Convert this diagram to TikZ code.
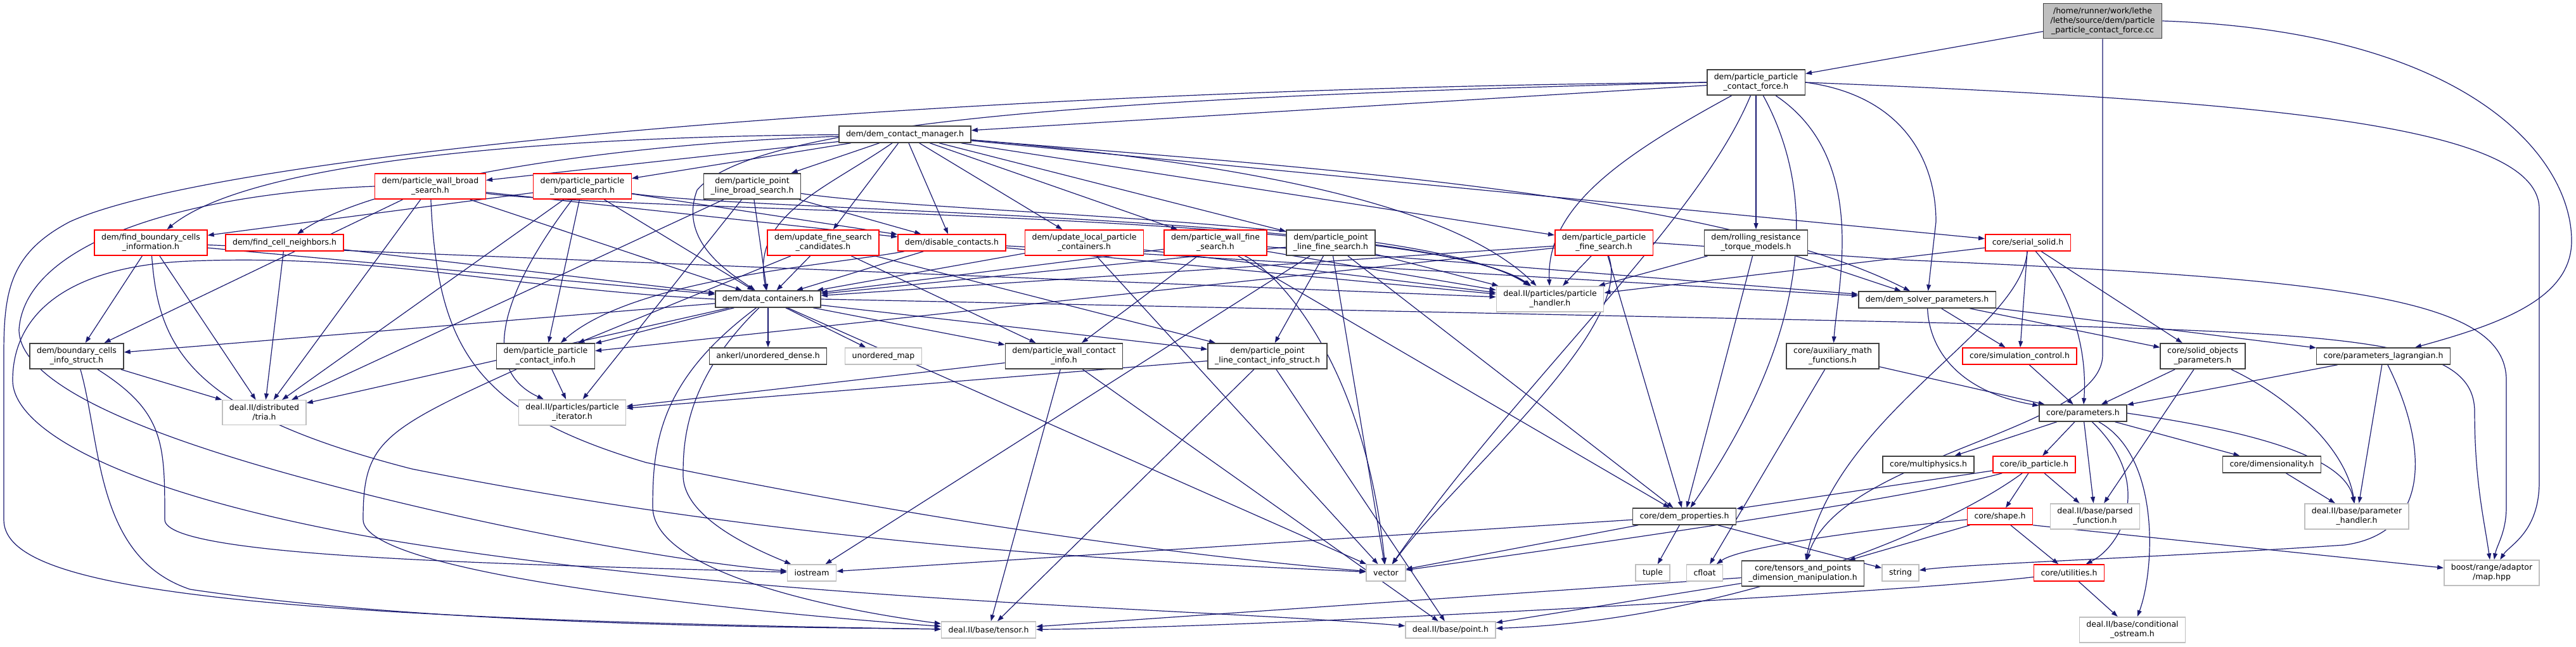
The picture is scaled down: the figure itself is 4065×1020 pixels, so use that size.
\documentclass[tikz,border=0pt]{standalone}
\usepackage{fontspec}
\setmainfont{DejaVu Sans}
\usetikzlibrary{
    arrows.meta,
    backgrounds
}
\definecolor{incblue}{RGB}{25,25,112}
\definecolor{boxdark}{RGB}{64,64,64}
\definecolor{boxgray}{RGB}{191,191,191}
\definecolor{boxred}{RGB}{255,0,0}
\tikzset{
  file/.style    = {draw=boxdark, line width=1.5pt, fill=white, align=center,
                    inner xsep=11pt, inner ysep=6.5pt, minimum height=26pt,
                    font=\fontsize{12.5}{15}\selectfont},
  redfile/.style = {file, draw=boxred},
  sysfile/.style = {file, draw=boxgray},
  rootfile/.style= {file, fill=boxgray},
  inc/.style     = {-{Triangle[length=10pt,width=7pt]}, incblue, line width=1.2pt}
}

\begin{document}
\begin{tikzpicture}[x=1pt, y=-1pt]
  \useasboundingbox (0,0) rectangle (4065,1020);

  % Files
  \node[rootfile] (root) at (3318,33) {/home/runner/work/lethe\\/lethe/source/dem/particle\\\_particle\_contact\_force.cc};
  \node[file] (ppcf) at (2771,130) {dem/particle\_particle\\\_contact\_force.h};
  \node[file] (cm) at (1428,212) {dem/dem\_contact\_manager.h};
  \node[redfile] (pwbs) at (679,294) {dem/particle\_wall\_broad\\\_search.h};
  \node[redfile] (ppbs) at (919,294) {dem/particle\_particle\\\_broad\_search.h};
  \node[file] (plbs) at (1187,294) {dem/particle\_point\\\_line\_broad\_search.h};
  \node[redfile] (fbci) at (238,383) {dem/find\_boundary\_cells\\\_information.h};
  \node[redfile] (fcn) at (449,383) {dem/find\_cell\_neighbors.h};
  \node[redfile] (ufsc) at (1299,383) {dem/update\_fine\_search\\\_candidates.h};
  \node[redfile] (dc) at (1502,383) {dem/disable\_contacts.h};
  \node[redfile] (ulpc) at (1711,383) {dem/update\_local\_particle\\\_containers.h};
  \node[redfile] (pwfs) at (1918,383) {dem/particle\_wall\_fine\\\_search.h};
  \node[file] (plfs) at (2100,383) {dem/particle\_point\\\_line\_fine\_search.h};
  \node[redfile] (ppfs) at (2531,383) {dem/particle\_particle\\\_fine\_search.h};
  \node[file] (rrtm) at (2771,383) {dem/rolling\_resistance\\\_torque\_models.h};
  \node[redfile] (ss) at (3200,383) {core/serial\_solid.h};
  \node[file] (datac) at (1212,472) {dem/data\_containers.h};
  \node[sysfile] (ph) at (2446,472) {deal.II/particles/particle\\\_handler.h};
  \node[file] (dsp) at (3041,473) {dem/dem\_solver\_parameters.h};
  \node[file] (bcis) at (121,562) {dem/boundary\_cells\\\_info\_struct.h};
  \node[file] (ppci) at (861,562) {dem/particle\_particle\\\_contact\_info.h};
  \node[file] (ank) at (1212,562) {ankerl/unordered\_dense.h};
  \node[sysfile] (umap) at (1394,562) {unordered\_map};
  \node[file] (pwci) at (1679,562) {dem/particle\_wall\_contact\\\_info.h};
  \node[file] (plci) at (2000,562) {dem/particle\_point\\\_line\_contact\_info\_struct.h};
  \node[file] (amf) at (2892,562) {core/auxiliary\_math\\\_functions.h};
  \node[redfile] (simc) at (3187,562) {core/simulation\_control.h};
  \node[file] (sop) at (3476,562) {core/solid\_objects\\\_parameters.h};
  \node[file] (plag) at (3761,562) {core/parameters\_lagrangian.h};
  \node[sysfile] (tria) at (417,651) {deal.II/distributed\\/tria.h};
  \node[sysfile] (piter) at (903,651) {deal.II/particles/particle\\\_iterator.h};
  \node[file] (param) at (3287,652) {core/parameters.h};
  \node[file] (mphys) at (3043,733) {core/multiphysics.h};
  \node[redfile] (ibp) at (3210,733) {core/ib\_particle.h};
  \node[file] (dim) at (3585,733) {core/dimensionality.h};
  \node[file] (demp) at (2658,815) {core/dem\_properties.h};
  \node[redfile] (shape) at (3156,815) {core/shape.h};
  \node[sysfile] (pfun) at (3306,815) {deal.II/base/parsed\\\_function.h};
  \node[sysfile] (phand) at (3719,815) {deal.II/base/parameter\\\_handler.h};
  \node[sysfile] (iostr) at (1281,904) {iostream};
  \node[sysfile] (vec) at (2187,904) {vector};
  \node[sysfile] (tuple) at (2608,904) {tuple};
  \node[sysfile] (cfloat) at (2690,904) {cfloat};
  \node[file] (tpdm) at (2845,905) {core/tensors\_and\_points\\\_dimension\_manipulation.h};
  \node[sysfile] (str) at (2999,904) {string};
  \node[redfile] (util) at (3265,904) {core/utilities.h};
  \node[sysfile] (boost) at (3932,904) {boost/range/adaptor\\/map.hpp};
  \node[sysfile] (tensor) at (1560,994) {deal.II/base/tensor.h};
  \node[sysfile] (point) at (2289,994) {deal.II/base/point.h};
  \node[sysfile] (cout) at (3365,994) {deal.II/base/conditional\\\_ostream.h};

  \begin{scope}[on background layer]
    % Straight includes
    \foreach \a/\b in {root/ppcf, ppcf/cm, ppcf/rrtm,
        cm/pwbs, cm/ppbs, cm/plbs, cm/ufsc, cm/dc, cm/ulpc, cm/pwfs, cm/plfs, cm/ppfs, cm/ss,
        pwbs/datac, pwbs/bcis, pwbs/tria, pwbs/dc,
        ppbs/datac, ppbs/fbci, ppbs/dc, ppbs/tria, ppbs/ppci,
        plbs/datac, plbs/dc, plbs/tria, plbs/piter,
        fbci/datac, fbci/bcis, fbci/tria, fbci/ph,
        fcn/datac, fcn/tria,
        ufsc/datac, ufsc/ppci, ufsc/pwci, ufsc/plci,
        dc/datac, dc/ph, dc/dsp,
        ulpc/datac, ulpc/ph, ulpc/vec,
        pwfs/datac, pwfs/ph, pwfs/pwci, pwfs/demp, pwfs/dsp,
        plfs/datac, plfs/ph, plfs/plci, plfs/vec, plfs/demp, plfs/iostr,
        ppfs/datac, ppfs/ph, ppfs/demp, ppfs/ppci,
        rrtm/ph, rrtm/demp, rrtm/dsp,
        ss/ph, ss/simc, ss/sop,
        datac/ank, datac/umap, datac/bcis, datac/ppci, datac/pwci, datac/plci, datac/tria, datac/vec,
        dsp/simc, dsp/sop, dsp/plag,
        bcis/tria, ppci/piter,
        pwci/tensor, pwci/point, pwci/piter,
        plci/tensor, plci/point, plci/piter,
        amf/cfloat, amf/param, simc/param,
        sop/param, sop/pfun, plag/param, plag/phand,
        param/mphys, param/ibp, param/pfun, param/dim,
        ibp/demp, ibp/shape, ibp/pfun, dim/phand,
        demp/tuple, demp/vec, demp/iostr, demp/str,
        shape/tpdm, shape/util,
        tpdm/tensor, tpdm/point, util/cout}
      \draw[inc] (\a) -- (\b);

    % Routed includes
    \draw[inc] (root.east) .. controls (3900,50) and (4058,250) .. (4058,380)
      .. controls (4058,470) and (3950,510) .. (plag);
    \draw[inc] (root) -- (3318,560) .. controls (3318,680) and (2900,720) .. (tpdm);
    \draw[inc] (ppcf.east) .. controls (3600,160) and (4007,200) .. (4007,330)
      -- (4007,760) .. controls (4007,840) and (3960,860) .. (boost);
    \draw[inc] (ppcf.west) .. controls (1500,140) and (350,240) .. (110,350)
      .. controls (15,400) and (6,460) .. (6,560) -- (6,820)
      .. controls (6,920) and (300,975) .. (tensor);
    \draw[inc] (ppcf.west) .. controls (1900,150) and (1200,180) .. (1100,300)
      .. controls (1070,380) and (1150,430) .. (datac);
    \draw[inc] (ppcf.east) .. controls (3000,150) and (3055,250) .. (3055,350) -- (dsp);
    \draw[inc] (ppcf) .. controls (2950,250) and (2900,450) .. (amf);
    \draw[inc] (ppcf) .. controls (2880,330) and (2840,550) .. (demp);
    \draw[inc] (ppcf) .. controls (2680,350) and (2400,600) .. (vec);
    \draw[inc] (ppcf) .. controls (2550,250) and (2440,330) .. (ph);
    \draw[inc] (cm) .. controls (1300,300) and (1185,340) .. (datac);
    \draw[inc] (cm) .. controls (900,215) and (400,250) .. (fbci);
    \draw[inc] (cm) .. controls (1000,225) and (600,280) .. (fcn);
    \draw[inc] (cm) .. controls (2000,260) and (2300,330) .. (ph);
    \draw[inc] (cm) .. controls (2000,260) and (2700,300) .. (dsp);
    \draw[inc] (pwbs) .. controls (1000,335) and (2250,335) .. (ph);
    \draw[inc] (ppbs) .. controls (1200,335) and (2250,340) .. (ph);
    \draw[inc] (plbs) .. controls (1500,340) and (2250,345) .. (ph);
    \draw[inc] (ppbs) .. controls (800,450) and (750,580) .. (piter);
    \draw[inc] (pwbs.west) .. controls (300,305) and (40,380) .. (30,520)
      .. controls (30,600) and (200,680) .. (500,760)
      .. controls (800,840) and (1100,890) .. (iostr);
    \draw[inc] (pwbs) .. controls (690,550) and (750,650) .. (1020,730)
      .. controls (1500,830) and (1900,880) .. (vec);
    \draw[inc] (fbci) .. controls (250,550) and (300,650) .. (650,740)
      .. controls (1300,870) and (1900,890) .. (vec);
    \draw[inc] (dc) .. controls (1300,420) and (1000,440) .. (ppci);
    \draw[inc] (pwfs) .. controls (2000,420) and (2150,550) .. (vec);
    \draw[inc] (ppfs) .. controls (2580,520) and (2300,750) .. (vec);
    \draw[inc] (ppfs.east) -- (3000,410) .. controls (3700,440) and (3955,470) .. (3955,600)
      -- (3955,800) .. controls (3955,840) and (3940,860) .. (boost);
    \draw[inc] (datac.west) .. controls (800,455) and (600,400) .. (300,412)
      .. controls (100,420) and (20,500) .. (20,600)
      .. controls (20,680) and (200,780) .. (600,850)
      .. controls (1200,950) and (1900,960) .. (point);
    \draw[inc] (datac) .. controls (1040,600) and (1030,700) .. (1030,800)
      .. controls (1030,900) and (1300,960) .. (tensor);
    \draw[inc] (datac) .. controls (1080,600) and (1078,700) .. (1078,750)
      .. controls (1078,820) and (1200,870) .. (iostr);
    \draw[inc] (datac.east) -- (3000,508) .. controls (3700,525) and (3905,530) .. (3905,650)
      .. controls (3905,760) and (3920,820) .. (boost);
    \draw[inc] (bcis) .. controls (260,650) and (260,700) .. (260,820)
      .. controls (260,880) and (800,890) .. (iostr);
    \draw[inc] (bcis) .. controls (160,700) and (150,880) .. (300,930)
      .. controls (700,990) and (1300,990) .. (tensor);
    \draw[inc] (ppci) .. controls (600,680) and (573,700) .. (573,820)
      .. controls (573,900) and (1100,960) .. (tensor);
    \draw[inc] (ss) .. controls (3190,520) and (2900,650) .. (tpdm);
    \draw[inc] (ss) .. controls (3260,450) and (3295,540) .. (param);
    \draw[inc] (dsp) .. controls (3045,560) and (3100,620) .. (param);
    \draw[inc] (sop) .. controls (3600,620) and (3700,700) .. (phand);
    \draw[inc] (plag) .. controls (3830,700) and (3840,840) .. (3700,860)
      .. controls (3400,880) and (3100,890) .. (str);
    \draw[inc] (param.east) .. controls (3550,680) and (3700,720) .. (phand);
    \draw[inc] (param) .. controls (3400,760) and (3350,860) .. (util);
    \draw[inc] (param) .. controls (3410,720) and (3400,900) .. (cout);
    \draw[inc] (ibp) .. controls (3000,790) and (2500,860) .. (vec);
    \draw[inc] (ibp) .. controls (3050,850) and (2700,980) .. (point);
    \draw[inc] (shape) .. controls (3000,830) and (2750,860) .. (cfloat);
    \draw[inc] (shape.south east) -- (boost);
    \draw[inc] (util) .. controls (3000,935) and (2000,990) .. (tensor);
  \end{scope}
\end{tikzpicture}
\end{document}
